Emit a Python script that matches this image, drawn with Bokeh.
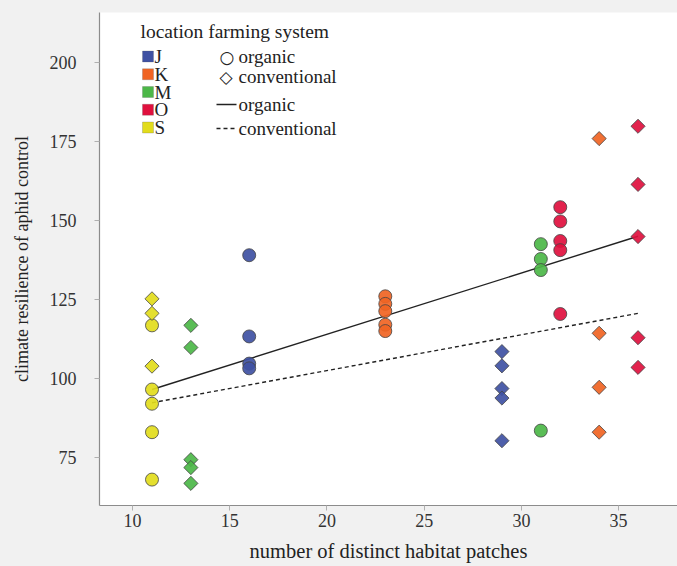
from bokeh.plotting import figure
from bokeh.models import Range1d, FixedTicker, Label, BoxAnnotation, Arrow
from bokeh.embed import file_html
from bokeh.resources import INLINE

# ---------------- data ----------------
locations = ["J", "K", "M", "O", "S"]
loc_colors = ["#3f51a3", "#f06423", "#4cb748", "#e0103e", "#e2dc1c"]

# number of distinct habitat patches for each location / farming system
patches_organic = [16, 23, 31, 32, 11]
patches_conventional = [29, 34, 13, 36, 11]

# climate resilience of aphid control
J_organic = [139.0, 113.3, 104.7, 103.2]
K_organic = [126.0, 123.6, 121.3, 117.0, 115.0]
M_organic = [142.5, 137.8, 134.3, 83.5]
O_organic = [154.2, 149.7, 143.5, 140.6, 120.4]
S_organic = [116.8, 96.5, 92.0, 83.0, 68.0]

J_conventional = [108.5, 104.0, 96.8, 93.8, 80.3]
K_conventional = [175.9, 114.3, 97.2, 83.0]
M_conventional = [116.8, 109.8, 74.3, 71.8, 66.8]
O_conventional = [179.8, 161.4, 144.9, 112.9, 103.5]
S_conventional = [125.2, 120.6, 103.9]

organic_values = [J_organic, K_organic, M_organic, O_organic, S_organic]
conventional_values = [J_conventional, K_conventional, M_conventional, O_conventional, S_conventional]

# fitted regression lines (end points)
fit_x = [11, 36]
fit_organic = [96.5, 145.0]
fit_conventional = [92.3, 120.6]

x_ticks = [10, 15, 20, 25, 30, 35]
y_ticks = [75, 100, 125, 150, 175, 200]

FONT = "Liberation Serif"
BG = "#f1f1f1"

p = figure(width=677, height=566,
           x_range=Range1d(8.3, 38.03), y_range=Range1d(59.8, 215.8),
           output_backend="svg", toolbar_location=None,
           min_border_left=99, min_border_right=0,
           min_border_top=12, min_border_bottom=61)
p.background_fill_color = "white"
p.border_fill_color = BG
p.outline_line_color = None
p.grid.visible = False

for ax in (p.xaxis[0], p.yaxis[0]):
    ax.axis_line_color = "#8c8c8c"
    ax.axis_line_width = 1.2
    ax.major_tick_line_color = "#b0b0b0"
    ax.major_tick_in = 0
    ax.major_tick_out = 5
    ax.minor_tick_line_color = None
    ax.major_label_text_font = FONT
    ax.major_label_text_font_size = "18px"
    ax.major_label_text_color = "#333333"
    ax.axis_label_text_font = FONT
    ax.axis_label_text_font_style = "normal"
    ax.axis_label_text_color = "#222222"

p.xaxis.ticker = FixedTicker(ticks=x_ticks)
p.yaxis.ticker = FixedTicker(ticks=y_ticks)
p.xaxis.axis_label = "number of distinct habitat patches"
p.yaxis.axis_label = "climate resilience of aphid control"
p.xaxis.axis_label_text_font_size = "20.5px"
p.yaxis.axis_label_text_font_size = "18px"
p.xaxis.major_label_standoff = 3
p.xaxis.axis_label_standoff = 10
p.yaxis.major_label_standoff = 18
p.yaxis.axis_label_standoff = 15

# regression lines
p.line(fit_x, fit_organic, line_color="#222222", line_width=1.4)
p.line(fit_x, fit_conventional, line_color="#222222", line_width=1.4, line_dash="4 3")

# points
for loc, col, xo, xc, vo, vc in zip(locations, loc_colors, patches_organic,
                                    patches_conventional, organic_values, conventional_values):
    p.scatter([xo] * len(vo), vo, marker="circle", size=13, fill_color=col,
              fill_alpha=0.92, line_color="#444444", line_width=0.8)
    p.scatter([xc] * len(vc), vc, marker="square", angle=0.785398, size=10,
              fill_color=col, fill_alpha=0.92, line_color="#444444", line_width=0.8)

# ---------------- legend (screen units relative to the frame) ----------------
FX, FB = 99, 505  # frame left and bottom on the page


def sx(X):
    return X - FX


def sy(Y):
    return FB - Y


def lab(X, Y, t, size="19px", font=FONT):
    p.add_layout(Label(x=sx(X), y=sy(Y), x_units="screen", y_units="screen", text=t,
                       text_font=font, text_font_size=size, text_color="#222222",
                       text_baseline="middle", text_align="left"))


lab(140, 31, "location farming system", size="19.5px")
for i, (loc, col) in enumerate(zip(locations, loc_colors)):
    cy = 56 + 17.75 * i
    p.add_layout(BoxAnnotation(left=sx(142), right=sx(153), top=sy(cy - 5.5), bottom=sy(cy + 5.5),
                               left_units="screen", right_units="screen",
                               top_units="screen", bottom_units="screen",
                               fill_color=col, fill_alpha=1.0, line_color="#555555",
                               line_width=0.8))
    lab(154, cy, loc)

lab(219, 56, "\u25cb", size="17px", font="DejaVu Sans")
lab(238, 56, "organic")
lab(219, 76, "\u25c7", size="17px", font="DejaVu Sans")
lab(238, 76, "conventional")
p.add_layout(Arrow(end=None, x_start=sx(216), y_start=sy(104), x_end=sx(236), y_end=sy(104),
                   start_units="screen", end_units="screen", line_color="#222222", line_width=1.6))
lab(238, 104, "organic")
p.add_layout(Arrow(end=None, x_start=sx(216), y_start=sy(128), x_end=sx(236), y_end=sy(128),
                   start_units="screen", end_units="screen", line_color="#222222", line_width=1.6,
                   line_dash="4 3"))
lab(238, 128, "conventional")

html = file_html(p, INLINE)
html = html.replace("</head>", "<style>body{background:%s;}</style></head>" % BG, 1)
open("out.html", "w").write(html)
